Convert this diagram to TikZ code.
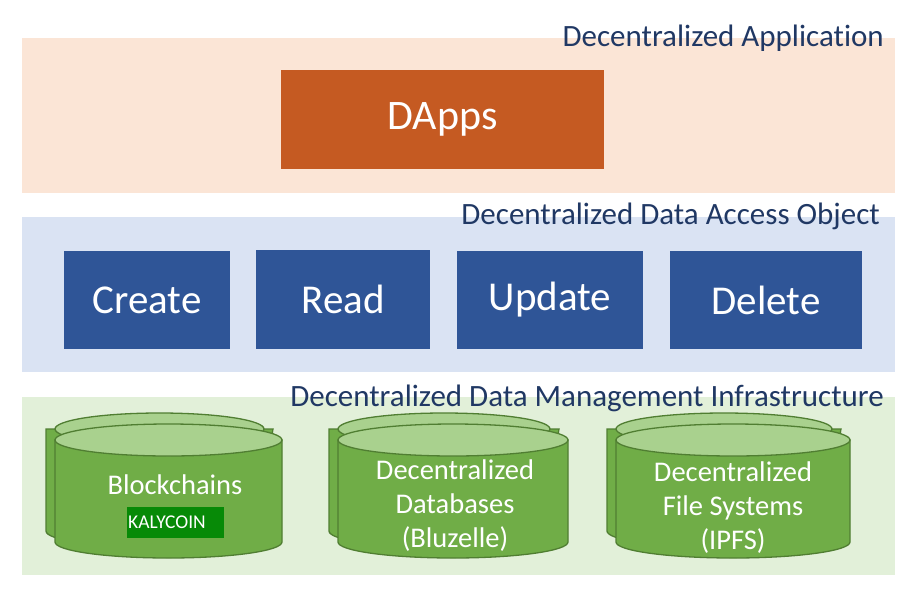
\documentclass[tikz,border=0pt]{standalone}
\usepackage{fontspec}
\setmainfont{Carlito}[Ligatures=NoCommon]
\definecolor{appbg}{HTML}{FBE5D6}
\definecolor{daobg}{HTML}{DAE3F3}
\definecolor{infbg}{HTML}{E2F0D9}
\definecolor{dapp}{HTML}{C55A22}
\definecolor{crud}{HTML}{2F5597}
\definecolor{navy}{HTML}{203864}
\definecolor{cylbody}{HTML}{70AD47}
\definecolor{cyltop}{HTML}{A9D18E}
\definecolor{cyledge}{HTML}{507E32}
\definecolor{badge}{HTML}{078A07}
\tikzset{
  bandtitle/.style={text=navy, font=\fontsize{31}{34}\selectfont, anchor=east, inner sep=0pt},
  crudbox/.style={fill=crud, draw=none, text=white, font=\fontsize{41}{44}\selectfont, inner sep=0pt},
  cyltext/.style={text=white, font=\fontsize{28.5}{34}\selectfont, align=center, inner sep=0pt},
  cylbodystyle/.style={fill=cylbody, draw=cyledge, line width=1.3pt},
  cyltopstyle/.style={fill=cyltop, draw=cyledge, line width=1.3pt}
}
% #1 left x, #2 right x, #3 top-ellipse centre y, #4 bottom-ellipse centre y, #5 ry
\newcommand\onecyl[5]{%
  \pgfmathsetmacro\crx{(#2-#1)/2}%
  \pgfmathsetmacro\ccx{(#2+#1)/2}%
  \path[cylbodystyle] (#1,#3) -- (#1,#4) arc[start angle=180, end angle=360, x radius=\crx, y radius=-#5] -- (#2,#3) -- cycle;
  \path[cyltopstyle] (\ccx,#3) ellipse[x radius=\crx, y radius=#5];
}
\newcommand\stackcyl[5]{%
  \onecyl{#1-9}{#2-9}{#3-11}{#4-11}{#5}%
  \onecyl{#1}{#2}{#3}{#4}{#5}%
}
\begin{document}
\begin{tikzpicture}[x=1pt, y=-1pt]
\useasboundingbox[fill=white] (0,0) rectangle (921,598);
% bands
\path[fill=appbg] (22,38) rectangle (895,193);
\path[fill=daobg] (22,217) rectangle (895,372);
\path[fill=infbg] (22,397) rectangle (895,575);
% titles
\node[bandtitle] (t1) at (884,38) {Decentralized Application};
\node[bandtitle] (t2) at (880,216) {Decentralized Data Access Object};
\node[bandtitle] (t3) at (884,398) {Decentralized Data Management Infrastructure};
% DApps
\node[crudbox, fill=dapp, minimum width=323pt, minimum height=99pt, font=\fontsize{42}{46}\selectfont] (dapps) at (442.5,119.5) {DApps};
% CRUD
\node[crudbox, minimum width=166pt, minimum height=98pt] (create) at (147,300) {Create};
\node[crudbox, minimum width=174pt, minimum height=99pt] (read) at (343,299.5) {Read};
\node[crudbox, minimum width=186pt, minimum height=98pt] (update) at (550,300) {Update};
\node[crudbox, minimum width=192pt, minimum height=98pt] (delete) at (766,300) {Delete};
% cylinders
\stackcyl{55}{282}{440}{542}{16}
\stackcyl{338}{568}{440}{542}{16}
\stackcyl{616}{850}{440}{542}{16}
\node[cyltext] (bc) at (175,485) {Blockchains};
\node[fill=badge, minimum width=97pt, minimum height=31pt, inner sep=0pt] (badgebox) at (175.5,522.5) {};
\node[text=white, font=\fontsize{19.5}{22}\selectfont, inner sep=0pt] (kaly) at (167,522.5) {KALYCOIN};
\node[cyltext] (db) at (455,506) {Decentralized\\Databases\\(Bluzelle)};
\node[cyltext] (fs) at (733,508) {Decentralized\\File Systems\\(IPFS)};
\end{tikzpicture}
\end{document}
